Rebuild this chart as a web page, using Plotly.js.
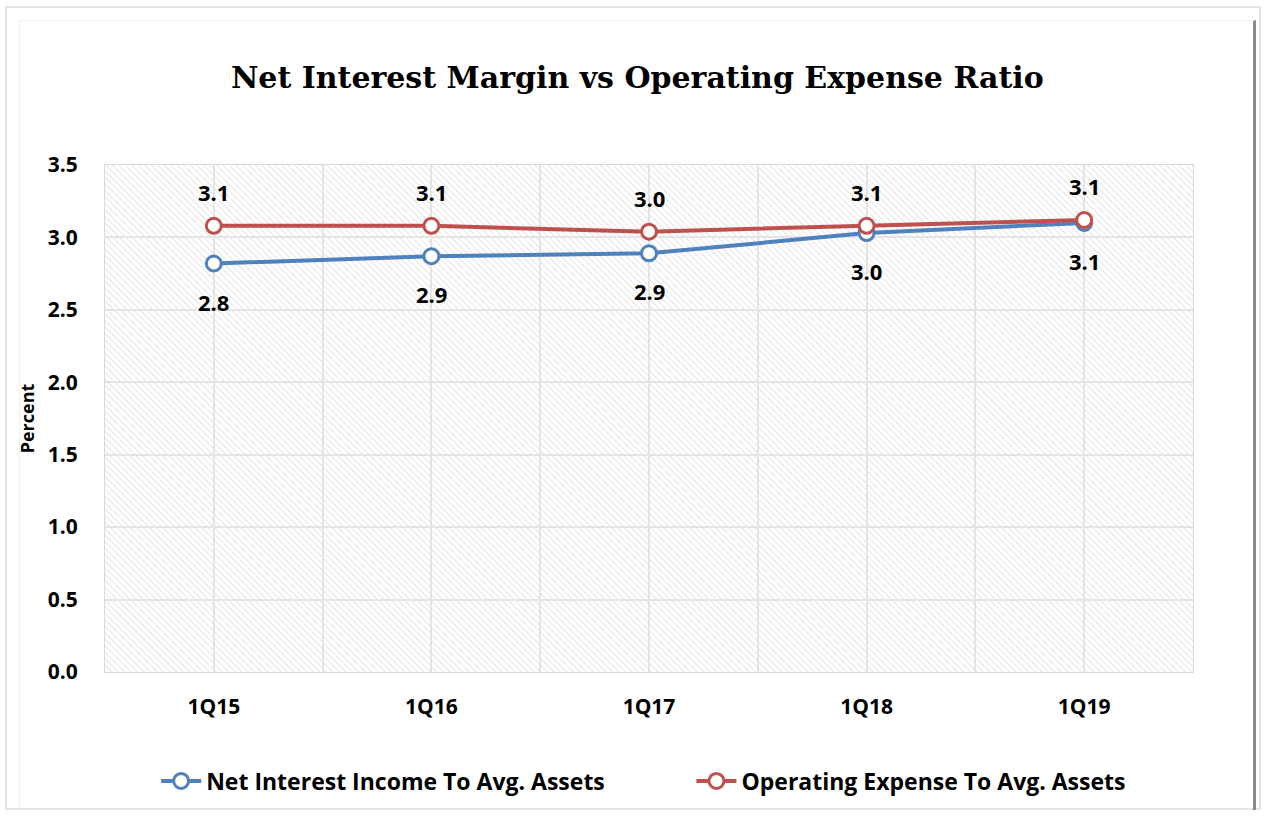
<!DOCTYPE html>
<html><head><meta charset="utf-8">
<script src="https://cdn.plot.ly/plotly-3.0.1.min.js"></script>
<style>
html,body{margin:0;padding:0;background:#fff;}
#wrap{position:relative;width:1267px;height:820px;}
#outer{position:absolute;left:5px;top:6px;width:1256px;height:804px;border:2px solid #e2e2e2;box-sizing:border-box;}
#inner{position:absolute;left:19px;top:20px;width:1237px;height:790px;border-top:1px solid #f0f0f0;border-left:1px solid #f0f0f0;border-right:3px solid #8a8a8a;box-sizing:border-box;}
#chart{position:absolute;left:0;top:0;width:1267px;height:820px;}
</style></head>
<body><div id="wrap"><div id="outer"></div><div id="inner"></div><div id="chart"></div></div>
<script>
const categories = ['1Q15','1Q16','1Q17','1Q18','1Q19'];
const netInterest = [2.82, 2.87, 2.89, 3.03, 3.10];
const opExpense = [3.08, 3.08, 3.04, 3.08, 3.12];
const seriesNames = ['Net Interest Income To Avg. Assets','Operating Expense To Avg. Assets'];
const yTicks = [0,0.5,1,1.5,2,2.5,3,3.5];

const blue = '#4f81bd', red = '#c0504d';
const sans = '"Open Sans", "Noto Sans", sans-serif';
const xIdx = categories.map((c,i)=>i);
const lblFont = {family:sans, size:22, color:'#000', weight:'bold'};

function trace(name, vals, color, legendId){
  return {type:'scatter', mode:'lines+markers', name:name, x:xIdx, y:vals, legend:legendId,
    line:{color:color, width:4},
    marker:{symbol:'circle', size:15, color:'#fff', line:{color:color, width:3}},
    hoverinfo:'none'};
}
const data = [trace(seriesNames[0], netInterest, blue, 'legend'), trace(seriesNames[1], opExpense, red, 'legend2')];

const annotations = [];
xIdx.forEach((x,i)=>{
  annotations.push({x:x, y:opExpense[i], xref:'x', yref:'y', text:opExpense[i].toFixed(1), showarrow:false, yshift:34, font:lblFont});
  annotations.push({x:x, y:netInterest[i], xref:'x', yref:'y', text:netInterest[i].toFixed(1), showarrow:false, yshift:-38, font:lblFont});
});

const W = 1088, H = 507;
const svg = `<svg xmlns="http://www.w3.org/2000/svg" width="${W}" height="${H}" viewBox="0 0 ${W} ${H}"><defs><pattern id="p" width="4.6" height="4.6" patternUnits="userSpaceOnUse" patternTransform="rotate(-45)"><line x1="0" y1="0" x2="0" y2="4.6" stroke="#cfcfcf" stroke-width="1.1"/></pattern></defs><rect width="${W}" height="${H}" fill="#ffffff"/><rect width="${W}" height="${H}" fill="url(#p)"/></svg>`;
const bgSrc = 'data:image/svg+xml;charset=utf-8,' + encodeURIComponent(svg);

const tickFont = {family:sans, size:21, color:'#000', weight:'bold'};
const legFont = {family:sans, size:23, color:'#000', weight:'bold'};
const layout = {
  width:1267, height:820,
  margin:{l:105, r:74, t:165, b:148, autoexpand:false},
  paper_bgcolor:'rgba(0,0,0,0)', plot_bgcolor:'rgba(0,0,0,0)',
  title:{text:'<b>Net Interest Margin vs Operating Expense Ratio</b>', x:0.503, xanchor:'center', y:0.905, yanchor:'middle',
    font:{family:'"DejaVu Serif", "Liberation Serif", serif', size:30, color:'#000'}},
  xaxis:{range:[-0.5,4.5], tickvals:xIdx, ticktext:categories, tickfont:tickFont,
    showgrid:true, gridcolor:'#e4e4e4', gridwidth:2,
    minor:{dtick:0.5, tick0:-0.5, showgrid:true, gridcolor:'#e4e4e4', gridwidth:2},
    showline:true, linecolor:'#d9d9d9', linewidth:1, mirror:true, zeroline:false, ticks:'', ticklabelstandoff:16, fixedrange:true},
  yaxis:{range:[0,3.5], tickvals:yTicks, ticktext:yTicks.map(v=>v.toFixed(1)), tickfont:tickFont,
    showgrid:true, gridcolor:'#e4e4e4', gridwidth:2, zeroline:false,
    showline:true, linecolor:'#d9d9d9', linewidth:1, mirror:true, ticks:'', ticklabelstandoff:22,
    title:{text:'<b>Percent</b>', font:{family:sans, size:18, color:'#000'}, standoff:8}, fixedrange:true},
  legend:{orientation:'h', x:0.047, xanchor:'left', y:-0.215, yanchor:'middle', font:legFont, itemwidth:40},
  legend2:{orientation:'h', x:0.539, xanchor:'left', y:-0.215, yanchor:'middle', font:legFont, itemwidth:40},
  annotations:annotations,
  images:[{source:bgSrc, xref:'paper', yref:'paper', x:0, y:1, sizex:1, sizey:1, xanchor:'left', yanchor:'top', sizing:'stretch', layer:'below'}],
  showlegend:true
};
Plotly.newPlot('chart', data, layout, {displayModeBar:false, staticPlot:true});
</script></body></html>
